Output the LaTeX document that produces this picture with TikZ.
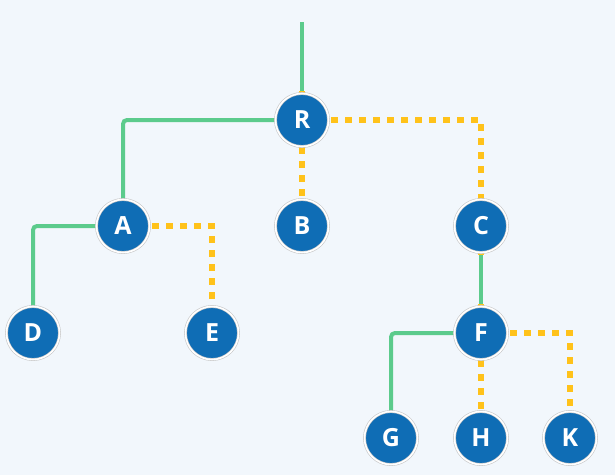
\documentclass[tikz,border=0pt]{standalone}
\usepackage{fontspec}
\setmainfont{Open Sans}
\definecolor{bgc}{HTML}{F2F7FC}
\definecolor{nodeblue}{HTML}{0F6DB5}
\definecolor{lgreen}{HTML}{5CCB8C}
\definecolor{lyellow}{HTML}{FFC21A}
\begin{document}
\begin{tikzpicture}[x=1pt,y=-1pt,
  tnode/.style={circle, fill=nodeblue, draw=gray!45, line width=0.6pt, double=white, double distance=1.6pt,
    minimum size=53pt, inner sep=0pt, text=white, font=\fontsize{25}{25}\selectfont\bfseries},
  gline/.style={draw=lgreen, line width=4pt, rounded corners=4pt},
  yline/.style={draw=lyellow, line width=6pt, dash pattern=on 7pt off 7pt}]
\fill[bgc] (0,0) rectangle (615,475);
\useasboundingbox (0,0) rectangle (615,475);
\coordinate (top) at (302,22);
\coordinate (cRA) at (123,120);
\coordinate (cRC) at (481,120);
\coordinate (cAD) at (33,226);
\coordinate (cAE) at (212,226);
\coordinate (cFG) at (391,333);
\coordinate (cFK) at (570,333);
\path (302,120) coordinate (pR) (123,226) coordinate (pA) (302,226) coordinate (pB)
      (481,226) coordinate (pC) (33,333) coordinate (pD) (212,333) coordinate (pE)
      (481,333) coordinate (pF) (391,438) coordinate (pG) (481,438) coordinate (pH)
      (570,438) coordinate (pK);
\draw[gline] (top) -- (pR);
\draw[gline] (pR) -- (cRA) -- (pA);
\draw[gline] (pA) -- (cAD) -- (pD);
\draw[gline] (pC) -- (pF);
\draw[gline] (pF) -- (cFG) -- (pG);
\draw[yline] ([xshift=29pt]pR) -- (cRC) -- ([yshift=-29pt]pC);
\draw[yline] ([yshift=29pt]pR) -- ([yshift=-29pt]pB);
\draw[yline] ([xshift=29pt]pA) -- (cAE) -- ([yshift=-29pt]pE);
\draw[yline] ([yshift=29pt]pF) -- ([yshift=-29pt]pH);
\draw[yline] ([xshift=29pt]pF) -- (cFK) -- ([yshift=-29pt]pK);
\node[tnode] (R) at (pR) {R};
\node[tnode] (A) at (pA) {A};
\node[tnode] (B) at (pB) {B};
\node[tnode] (C) at (pC) {C};
\node[tnode] (D) at (pD) {D};
\node[tnode] (E) at (pE) {E};
\node[tnode] (F) at (pF) {F};
\node[tnode] (G) at (pG) {G};
\node[tnode] (H) at (pH) {H};
\node[tnode] (K) at (pK) {K};
\end{tikzpicture}
\end{document}
